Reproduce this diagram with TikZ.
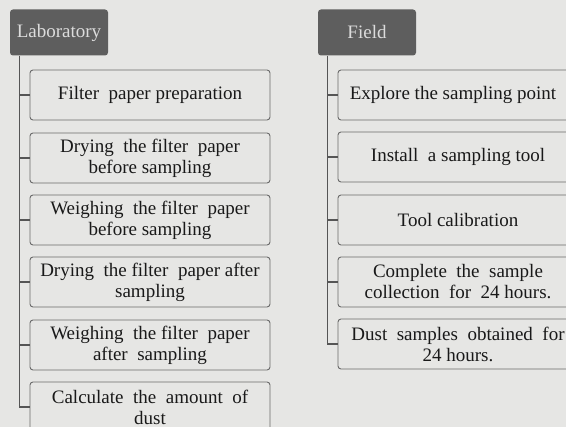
\documentclass[tikz,border=0pt]{standalone}
\usepackage{fontspec}
\setmainfont{Liberation Serif}
\definecolor{paper}{HTML}{E6E6E4}
\definecolor{boxline}{HTML}{6A6A6A}
\definecolor{headfill}{HTML}{5E5E5E}
\definecolor{headtext}{HTML}{DCDCDC}
\definecolor{trunkc}{HTML}{555555}
\begin{document}
\begin{tikzpicture}[x=1pt,y=-1pt,
  stepbox/.style={draw=boxline, rounded corners=3pt, minimum width=240pt, minimum height=50pt,
    align=center, font=\fontsize{19}{21}\selectfont, inner sep=0pt, line width=0.9pt, text=black!90},
  header/.style={fill=headfill, rounded corners=3pt, text=headtext,
    font=\fontsize{19}{21}\selectfont, minimum height=46pt, inner sep=0pt},
  trunk/.style={draw=trunkc, line width=1.3pt}]
\fill[paper] (0,0) rectangle (566,427);
\useasboundingbox (0,0) rectangle (566,427);
% Laboratory column
\node[header, minimum width=98pt] (lab) at (59,32.5) {Laboratory};
\node[stepbox] (l1) at (150,95) {Filter~ paper preparation};
\node[stepbox] (l2) at (150,158) {Drying~ the filter~ paper\\before sampling};
\node[stepbox] (l3) at (150,220) {Weighing~ the filter~ paper\\before sampling};
\node[stepbox] (l4) at (150,282) {Drying~ the filter~ paper after\\sampling};
\node[stepbox] (l5) at (150,345) {Weighing~ the filter~ paper\\after~ sampling};
\node[stepbox] (l6) at (150,407) {Calculate~ the~ amount~ of\\dust};
\coordinate (ltop) at ([xshift=10pt]lab.south west);
\draw[trunk] (ltop) |- (l6.west);
\foreach \i in {1,...,5} \draw[trunk] (l\i.west) -- (l\i.west -| ltop);
% Field column
\node[header, minimum width=98pt] (fld) at (367,32.5) {Field};
\node[stepbox] (r1) at (458,95) {\hspace*{-10pt}Explore the sampling point};
\node[stepbox] (r2) at (458,157) {Install~ a sampling tool};
\node[stepbox] (r3) at (458,220) {Tool calibration};
\node[stepbox] (r4) at (458,282) {Complete~ the~ sample\\collection~ for~ 24 hours.};
\node[stepbox] (r5) at (458,344) {Dust~ samples~ obtained~ for\\24 hours.};
\coordinate (rtop) at ([xshift=10pt]fld.south west);
\draw[trunk] (rtop) |- (r5.west);
\foreach \i in {1,...,4} \draw[trunk] (r\i.west) -- (r\i.west -| rtop);
\end{tikzpicture}
\end{document}
